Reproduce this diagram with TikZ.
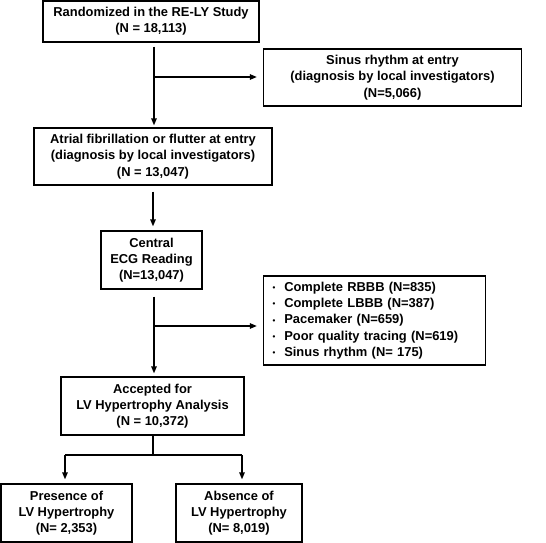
\documentclass[tikz,border=0pt]{standalone}
\usepackage{fontspec}
\setmainfont{Liberation Sans}
\usetikzlibrary{arrows.meta,calc}
\newcommand{\bul}{{\footnotesize\raisebox{0.5pt}{•}}}
\begin{document}
\begin{tikzpicture}[x=1pt,y=-1pt,
  box/.style={draw=black,line width=1.3pt,inner sep=0pt,align=center,
    font=\fontsize{12.9}{16.3}\selectfont\bfseries},
  link/.style={draw=black,line width=1.3pt},
  arr/.style={link,-{Triangle[length=7pt,width=5.5pt]}}]
\useasboundingbox (0,0) rectangle (546,543);
\node[box,minimum width=216,minimum height=41] (rand) at (151,21.5)
  {Randomized in the RE-LY Study\\(N = 18,113)};
\node[box,minimum width=258,minimum height=57] (sinus) at (392.5,77.5)
  {Sinus rhythm at entry\\(diagnosis by local investigators)\\(N=5,066)};
\node[box,minimum width=238,minimum height=57] (af) at (153,156.5)
  {Atrial fibrillation or flutter at entry\\(diagnosis by local investigators)\\(N = 13,047)};
\node[box,minimum width=101,minimum height=58] (ecg) at (151.5,260)
  {Central\\ECG Reading\\(N=13,047)};
\node[box,minimum width=222,minimum height=89,align=left,text width=204,inner xsep=9pt] (excl) at (374.5,320.5)
  {\begin{tabular}{@{}l@{\hspace{9pt}}l@{}}
   \bul & Complete RBBB (N=835)\\
   \bul & Complete LBBB (N=387)\\
   \bul & Pacemaker (N=659)\\
   \bul & Poor quality tracing (N=619)\\
   \bul & Sinus rhythm (N= 175)
   \end{tabular}};
\node[box,minimum width=183,minimum height=58] (acc) at (152.5,406)
  {Accepted for\\LV Hypertrophy Analysis\\(N = 10,372)};
\node[box,minimum width=131,minimum height=58] (pres) at (66.5,513)
  {Presence of\\LV Hypertrophy\\(N= 2,353)};
\node[box,minimum width=126,minimum height=58] (abs) at (239,513)
  {Absence of\\LV Hypertrophy\\(N= 8,019)};
\coordinate (j1) at (154,77);
\coordinate (j2) at (154,326);
\coordinate (j3) at (153,455);
\coordinate (jl) at (65,455);
\coordinate (jr) at (242,455);
\draw[arr,shorten <=4pt,shorten >=2pt] (rand.south -| j1) -- (af.north -| j1);
\draw[arr,shorten >=6pt] (j1) -- (sinus.west |- j1);
\draw[arr,shorten <=6pt,shorten >=4pt] (af.south -| j3) -- (ecg.north -| j3);
\draw[arr,shorten <=7pt,shorten >=3pt] (ecg.south -| j2) -- (acc.north -| j2);
\draw[arr,shorten >=6pt] (j2) -- (excl.west |- j2);
\draw[link] (acc.south -| j3) -- (j3);
\draw[link] (jl) -- (jr);
\draw[arr,shorten >=4pt] (jl) -- (pres.north -| jl);
\draw[arr,shorten >=4pt] (jr) -- (abs.north -| jr);
\end{tikzpicture}
\end{document}
